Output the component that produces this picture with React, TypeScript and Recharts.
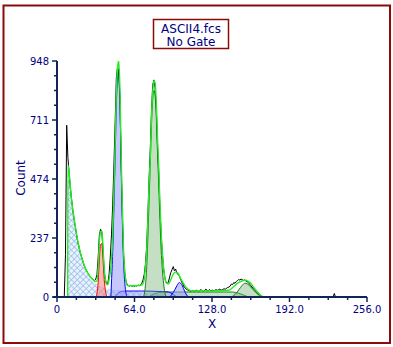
import { Area, ComposedChart, Line, XAxis, YAxis } from "recharts";

// raw histogram, one count per channel starting at channel 5
const rawStart = 5;
const rawCount = [
  0, 0, 170, 690, 560, 500, 440, 395, 350, 315,
  285, 255, 225, 205, 182, 165, 150, 132, 120, 110,
  100, 92, 84, 78, 72, 70, 66, 72, 90, 160,
  250, 272, 262, 190, 100, 68, 52, 55, 90, 160,
  250, 370, 530, 700, 880, 925, 905, 790, 540, 330,
  170, 95, 62, 50, 46, 44, 47, 43, 45, 42,
  46, 44, 48, 45, 50, 55, 68, 90, 130, 200,
  320, 470, 590, 740, 850, 872, 840, 760, 610, 500,
  360, 250, 175, 115, 80, 60, 55, 60, 80, 98,
  110, 122, 105, 112, 96, 90, 85, 72, 60, 52,
  40, 36, 30, 28, 26, 24, 22, 26, 24, 22,
  28, 24, 22, 26, 30, 25, 22, 28, 32, 24,
  26, 30, 24, 28, 26, 24, 30, 28, 26, 32,
  30, 28, 30, 34, 30, 36, 38, 40, 44, 52,
  50, 58, 55, 62, 66, 70, 68, 72, 70, 66,
  68, 64, 62, 58, 52, 46, 40, 34, 30, 24,
  18, 14, 10, 6, 3, 0,
];
const rawTailX = [228, 229, 230];
const rawTailCount = [0, 14, 0];

// model fit (sum of components)
const fitX = [
  8.8, 9, 10, 12, 14, 16, 18, 20, 22, 24, 26, 28, 30, 32, 33, 34, 35, 36, 37, 38,
  39, 40, 41, 42, 43, 44, 45, 46, 47, 48, 49, 50, 51, 52, 53, 54, 55, 56, 57, 58,
  60, 65, 70, 72, 73, 74, 75, 76, 77, 78, 79, 80, 81, 82, 83, 84, 85, 86, 87, 88,
  89, 90, 92, 94, 96, 98, 100, 102, 104, 106, 108, 111, 120, 130, 140, 143, 146,
  149, 152, 155, 157, 160, 163, 166, 169, 171,
];
const fitY = [
  0, 530, 500, 390, 320, 257, 205, 165, 135, 110, 92, 78, 68, 62, 64, 120, 220, 262, 265, 200,
  110, 70, 50, 50, 70, 100, 150, 250, 420, 610, 820, 920, 950, 830, 570, 350, 180, 100, 60, 48,
  45, 45, 48, 70, 120, 180, 300, 450, 560, 720, 820, 870, 860, 780, 640, 520, 380, 260, 180, 120,
  80, 58, 52, 70, 92, 100, 95, 75, 58, 42, 32, 24, 24, 24, 26, 30, 42,
  55, 63, 68, 66, 55, 35, 18, 4, 0,
];

// debris (hatched)
const debrisX = [8.8, 9, 10, 12, 14, 16, 18, 20, 22, 24, 26, 28, 30, 32, 34, 36, 38, 40, 44, 48, 52, 56, 60, 70, 78, 84, 90];
const debrisY = [0, 530, 495, 385, 315, 250, 200, 160, 128, 104, 86, 72, 62, 55, 48, 42, 38, 35, 30, 28, 26, 24, 22, 18, 14, 10, 0];

// first population: red peak
const redX = [32, 33, 34, 35, 36, 37, 38, 39, 40, 41, 42];
const redY = [0, 15, 60, 150, 210, 215, 150, 70, 25, 5, 0];

// diploid G1 (blue)
const blueG1X = [44.5, 45, 46, 47, 48, 49, 50, 51, 52, 53, 54, 55, 56, 57, 58];
const blueG1Y = [0, 60, 180, 360, 560, 770, 880, 905, 780, 520, 300, 140, 55, 15, 0];
const blueSX = [48, 52, 56, 70, 85, 92, 96, 99];
const blueSY = [0, 20, 24, 24, 22, 20, 10, 0];
const blueG2X = [93, 96, 99, 101, 103, 105, 107, 109];
const blueG2Y = [0, 18, 45, 58, 50, 28, 8, 0];

// second population (green)
const greenG1X = [71, 72, 73, 74, 75, 76, 77, 78, 79, 80, 81, 82, 83, 84, 85, 86, 87, 88, 89, 90];
const greenG1Y = [0, 10, 45, 110, 230, 380, 530, 690, 790, 830, 810, 720, 580, 450, 310, 190, 110, 55, 20, 0];
const greenSX = [76, 80, 84, 90, 110, 130, 145, 150, 155, 158];
const greenSY = [0, 12, 18, 20, 20, 20, 20, 15, 6, 0];
const greenG2X = [144, 147, 150, 153, 155, 157, 160, 163, 166, 169];
const greenG2Y = [0, 10, 28, 47, 55, 53, 40, 24, 10, 0];

const xTicks = [0, 16, 32, 48, 64, 80, 96, 112, 128, 144, 160, 176, 192, 208, 224, 240, 256];
const xTickLabels = ["0", "64.0", "128.0", "192.0", "256.0"];
const yTickLabels = ["0", "237", "474", "711", "948"];

const axisColor = "#102458";
const textColor = "#000080";
const frameColor = "#8c0a0a";
const font = "DejaVu Sans";

const toPts = (xs: number[], ys: number[]) => xs.map((x, i) => ({ x, y: ys[i] }));

const rawData = [
  ...rawCount.map((y, i) => ({ x: rawStart + i, y })),
  ...toPts(rawTailX, rawTailCount),
];
const yTicks = Array.from({ length: 17 }, (_, i) => (948 / 16) * i);

function XTick(props: any) {
  const { x, y, payload } = props;
  const v = payload.value;
  const major = v % 64 === 0;
  return (
    <g>
      {v === 0 && <line x1={x - 4} y1={y} x2={x} y2={y} stroke={axisColor} strokeWidth={2} />}
      <line x1={x} y1={y} x2={x} y2={y + (major ? 5 : 3)} stroke={axisColor} strokeWidth={1.5} />
      {major && (
        <text x={x} y={y + 16} textAnchor="middle" fill={textColor} fontSize={10} fontFamily={font}>
          {xTickLabels[v / 64]}
        </text>
      )}
    </g>
  );
}

function YTick(props: any) {
  const { x, y, index } = props;
  const major = index % 4 === 0;
  return (
    <g>
      <line x1={x - (major ? 5 : 3)} y1={y} x2={x} y2={y} stroke={axisColor} strokeWidth={1.5} />
      {major && (
        <text x={x - 8} y={y + 3.6} textAnchor="end" fill={textColor} fontSize={10} fontFamily={font}>
          {yTickLabels[index / 4]}
        </text>
      )}
    </g>
  );
}

export default function App() {
  return (
    <div style={{ position: "absolute", left: 0, top: 0, width: 393, height: 347, background: "#fff" }}>
      <ComposedChart width={393} height={347} margin={{ top: 61, right: 26, bottom: 20, left: 7 }}>
        <defs>
          <pattern id="hatch" width="4.2" height="4.2" patternUnits="userSpaceOnUse" patternTransform="rotate(45)">
            <rect width="4.2" height="4.2" fill="#e9f1fb" />
            <line x1="0" y1="0" x2="0" y2="4.2" stroke="#94bdec" strokeWidth="1.4" />
            <line x1="0" y1="0" x2="4.2" y2="0" stroke="#94bdec" strokeWidth="1.4" />
          </pattern>
        </defs>
        <XAxis
          dataKey="x"
          type="number"
          domain={[0, 256]}
          ticks={xTicks}
          interval={0}
          height={30}
          tickSize={0}
          tickMargin={0}
          tickLine={false}
          tick={<XTick />}
          axisLine={{ stroke: axisColor, strokeWidth: 2 }}
          allowDataOverflow
        />
        <YAxis
          type="number"
          domain={[0, 948]}
          ticks={yTicks}
          interval={0}
          width={50}
          tickSize={0}
          tickMargin={0}
          tickLine={false}
          tick={<YTick />}
          axisLine={{ stroke: axisColor, strokeWidth: 2 }}
          allowDataOverflow
        />
        <Area data={toPts(debrisX, debrisY)} dataKey="y" type="monotone" stroke="none" fill="url(#hatch)" fillOpacity={1} isAnimationActive={false} />
        <Area data={toPts(greenSX, greenSY)} dataKey="y" type="monotone" stroke="#1f7a1f" strokeWidth={1} fill="#66aa66" fillOpacity={0.35} isAnimationActive={false} />
        <Area data={toPts(blueSX, blueSY)} dataKey="y" type="monotone" stroke="#0000ff" strokeWidth={1} fill="#9999ff" fillOpacity={0.4} isAnimationActive={false} />
        <Area data={toPts(redX, redY)} dataKey="y" type="monotone" stroke="#ff0000" strokeWidth={1} fill="#ff6666" fillOpacity={0.45} isAnimationActive={false} />
        <Area data={toPts(blueG1X, blueG1Y)} dataKey="y" type="monotone" stroke="#0000ff" strokeWidth={1} fill="#9999ff" fillOpacity={0.55} isAnimationActive={false} />
        <Area data={toPts(blueG2X, blueG2Y)} dataKey="y" type="monotone" stroke="#0000ff" strokeWidth={1} fill="#9999ff" fillOpacity={0.55} isAnimationActive={false} />
        <Area data={toPts(greenG1X, greenG1Y)} dataKey="y" type="monotone" stroke="#1f7a1f" strokeWidth={1} fill="#66aa66" fillOpacity={0.38} isAnimationActive={false} />
        <Area data={toPts(greenG2X, greenG2Y)} dataKey="y" type="monotone" stroke="#1f7a1f" strokeWidth={1} fill="#66aa66" fillOpacity={0.38} isAnimationActive={false} />
        <Line data={rawData} dataKey="y" type="linear" stroke="#000000" strokeWidth={1} dot={false} isAnimationActive={false} />
        <Line data={toPts(fitX, fitY)} dataKey="y" type="monotone" stroke="#22ee22" strokeWidth={1.4} dot={false} isAnimationActive={false} />
      </ComposedChart>
      <svg width={393} height={347} style={{ position: "absolute", left: 0, top: 0, pointerEvents: "none" }}>
        <rect x={3.5} y={5.5} width={386.5} height={337.5} fill="none" stroke={frameColor} strokeWidth={2} />
        <rect x={153.5} y={19.5} width={75} height={29} fill="#fff" stroke={frameColor} strokeWidth={1.5} />
        <text x={191} y={32.5} textAnchor="middle" fill={textColor} fontSize={12} fontFamily={font}>ASCII4.fcs</text>
        <text x={191} y={45.5} textAnchor="middle" fill={textColor} fontSize={12} fontFamily={font}>No Gate</text>
        <text x={212} y={327.5} textAnchor="middle" fill={textColor} fontSize={12} fontFamily={font}>X</text>
        <text x={25} y={178} textAnchor="middle" fill={textColor} fontSize={12} fontFamily={font} transform="rotate(-90 25 178)">Count</text>
      </svg>
    </div>
  );
}
